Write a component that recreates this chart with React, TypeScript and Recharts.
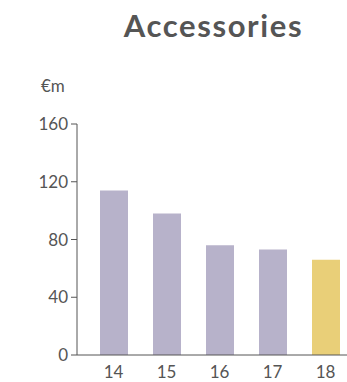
import React from "react";
import { BarChart, Bar, XAxis, YAxis, Cell } from "recharts";

const years = ["14", "15", "16", "17", "18"];
const revenue = [114, 98, 76, 73, 66];
const barColors = ["#b7b2ca", "#b7b2ca", "#b7b2ca", "#b7b2ca", "#e9cf78"];
const yTicks = [0, 40, 80, 120, 160];

const data = years.map((year, i) => ({ year, value: revenue[i] }));

const font = "Lato, 'Open Sans', sans-serif";

const App = () => {
  return (
    <div
      style={{
        position: "absolute",
        left: 0,
        top: 0,
        width: 347,
        height: 382,
        overflow: "hidden",
        background: "#fff",
        fontFamily: font,
      }}
    >
      <div
        style={{
          position: "absolute",
          left: 80,
          width: 267,
          top: 6,
          textAlign: "center",
          fontSize: 31,
          fontWeight: 700,
          color: "#555555",
          letterSpacing: 1.6,
        }}
      >
        Accessories
      </div>
      <div
        style={{
          position: "absolute",
          left: 41,
          top: 75,
          fontSize: 17,
          color: "#555555",
        }}
      >
        €m
      </div>
      <div style={{ position: "absolute", left: 0, top: 0 }}>
        <BarChart
          width={352}
          height={382}
          data={data}
          margin={{ top: 124, right: 0, bottom: 0, left: 0 }}
        >
          <XAxis
            dataKey="year"
            height={27}
            padding={{ left: 10, right: 0 }}
            tickLine={false}
            stroke="#555555"
            tick={{ fill: "#555555", fontSize: 17, fontFamily: font }}
            tickMargin={5}
          />
          <YAxis
            width={77}
            domain={[0, 160]}
            ticks={yTicks}
            stroke="#555555"
            tickSize={6}
            tickMargin={3}
            tick={{ fill: "#555555", fontSize: 17, fontFamily: font }}
          />
          <Bar dataKey="value" barSize={28} isAnimationActive={false}>
            {data.map((d, i) => (
              <Cell key={d.year} fill={barColors[i]} />
            ))}
          </Bar>
        </BarChart>
      </div>
    </div>
  );
};

export default App;
